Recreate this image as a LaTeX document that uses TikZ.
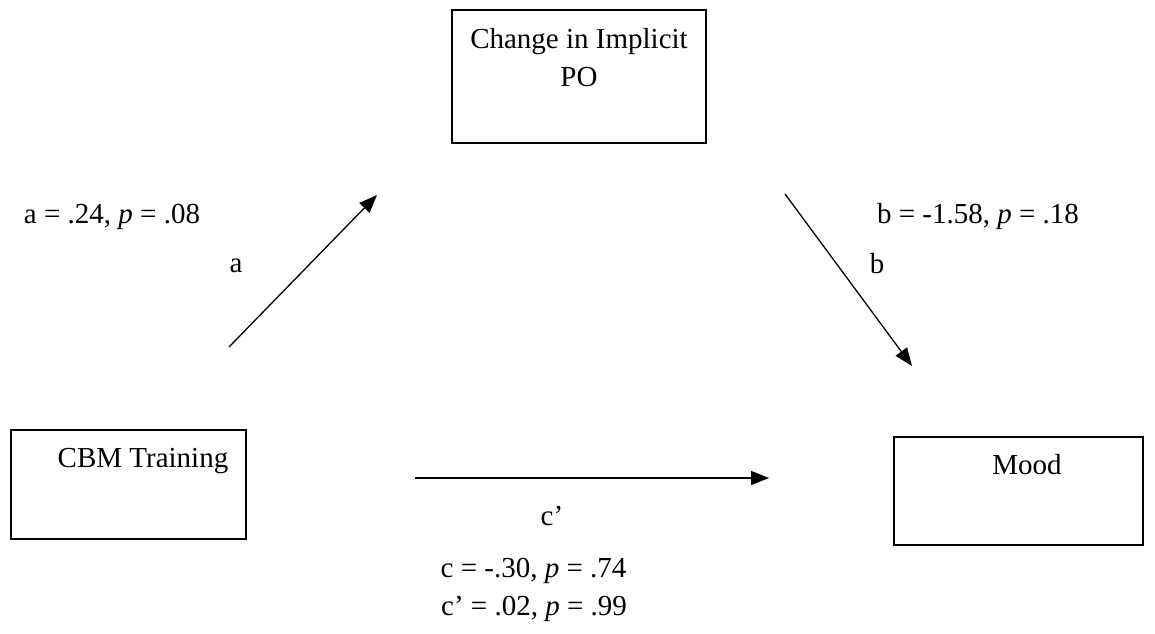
\documentclass[tikz,border=0pt]{standalone}
\usepackage{fontspec}
\setmainfont{Liberation Serif}
\usetikzlibrary{arrows.meta}
\begin{document}
\begin{tikzpicture}[x=1pt,y=-1pt,
  boxshape/.style={draw, line width=1.6pt, inner sep=0pt},
  lbl/.style={font=\fontsize{29}{33}\selectfont, inner sep=0pt, anchor=base},
  conn/.style={line width=1.3pt, -{Triangle[length=18pt,width=14pt]}}]
\useasboundingbox (0,0) rectangle (1155,633);
% boxes
\node[boxshape, minimum width=254pt, minimum height=133pt] (po) at (579,76.5) {};
\node[boxshape, minimum width=235pt, minimum height=109pt] (cbm) at (128.5,484.5) {};
\node[boxshape, minimum width=249pt, minimum height=108pt] (mood) at (1018.5,491) {};
% box texts
\node[lbl] (potext1) at (579,48) {Change in Implicit};
\node[lbl] (potext2) at (579,86) {PO};
\node[lbl] (cbmtext) at (143,467) {CBM Training};
\node[lbl] (moodtext) at (1027,474) {Mood};
% connector ends
\coordinate (a1) at (229,347);
\coordinate (a2) at (377,195);
\coordinate (b1) at (785,194);
\coordinate (b2) at (912,366);
\coordinate (c1) at (415,478);
\coordinate (c2) at (769,478);
\draw[conn] (a1) -- (a2);
\draw[conn] (b1) -- (b2);
\draw[conn] (c1) -- (c2);
% labels
\node[lbl] (la) at (236,272) {a};
\node[lbl] (lb) at (877,273) {b};
\node[lbl] (lc) at (552,525) {c’};
\node[lbl] (sa) at (112,223) {a = .24, \textit{p} = .08};
\node[lbl] (sb) at (978,223) {b = -1.58, \textit{p} = .18};
\node[lbl] (sc) at (533.5,577) {c = -.30, \textit{p} = .74};
\node[lbl] (scp) at (534,615) {c’ = .02, \textit{p} = .99};
\end{tikzpicture}
\end{document}
